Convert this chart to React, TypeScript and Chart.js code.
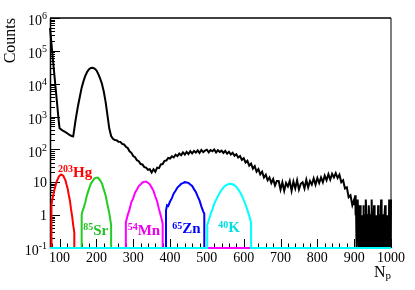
import React, { useEffect, useRef } from 'react';
import { Chart, registerables } from 'chart.js';

Chart.register(...registerables);

// ---------------- data ----------------
const FLOOR = 0.1; // empty bins rest on the axis floor
const X_MIN = 74;
const X_MAX = 1000;
const Y_MIN = 0.1;
const Y_MAX = 1e6;

const X_TICKS = [100, 200, 300, 400, 500, 600, 700, 800, 900, 1000];
const X_TICK_LABELS = ['100', '200', '300', '400', '500', '600', '700', '800', '900', '1000'];
const X_MINOR_STEP = 20;
const Y_TICKS = [1e6, 1e5, 1e4, 1e3, 1e2, 10, 1, 0.1];
const Y_TICK_BASE = ['10', '10', '10', '10', '10', '10', '1', '10'];
const Y_TICK_EXP = ['6', '5', '4', '3', '2', '', '', '-1'];
const Y_MINOR_MULT = [2, 3, 4, 5, 6, 7, 8, 9];

// full spectrum (black)
const BLACK_HEAD_X = [74, 77, 80, 83, 86, 89, 92, 95, 98, 100,
  105, 110, 115, 120, 125, 130, 135, 137, 140, 143,
  145, 150, 155, 160, 165, 170, 175, 180, 185, 190,
  195, 200, 205, 210, 215, 220, 225, 230, 235, 240];
const BLACK_HEAD_Y = [490000, 215000, 94000, 41000, 18000, 7900, 3500, 1550, 680, 440,
  400, 365, 340, 315, 285, 265, 250, 248, 420, 720,
  1000, 2100, 4000, 7600, 12000, 17500, 23000, 27500, 30000, 30500,
  29000, 25500, 20000, 14500, 10000, 5800, 2800, 1100, 430, 255];
const BLACK_BODY_START = 245;
const BLACK_BODY_STEP = 5;
const BLACK_BODY_Y = [
  210, 192, 191, 172, 170, 147, 142, 121, 111, 88,
  79, 63, 58, 47, 44, 36, 35, 29, 28, 24,
  25, 20, 25, 21, 28, 27, 35, 36, 45, 46,
  55, 53, 62, 57, 69, 63, 75, 67, 81, 70,
  84, 72, 88, 76, 90, 80, 94, 78, 97, 83,
  92, 98, 82, 96, 88, 99, 81, 95, 84, 92,
  78, 90, 74, 85, 70, 79, 64, 71, 57, 63,
  48, 54, 40, 45, 32, 37, 26, 31, 21, 25,
  17.5, 21, 14, 17, 11.5, 14, 9.5, 12.5, 8, 11,
  11, 6, 10, 5.5, 9.5, 7.5, 11, 5.5, 10.5, 6.5,
  11.5, 6, 9, 10, 6.5, 12, 7, 11, 8.5, 13,
  8.5, 13.5, 9.5, 14, 10, 16, 11.5, 17.5, 12, 18,
  14, 19, 13.5, 17, 10, 11.5, 6.5, 7, 3.5, 4,
  2, 3];
const BLACK_TAIL_START = 901;
const BLACK_TAIL_Y = [
  3, 2, 4, 1, 2, 3, 0, 2, 1, 3,
  1, 0, 2, 1, 0, 1, 2, 0, 1, 1,
  0, 1, 1, 0, 2, 0, 1, 0, 1, 1,
  0, 3, 1, 0, 1, 0, 1, 1, 0, 2,
  1, 0, 1, 0, 1, 1, 0, 3, 0, 1,
  1, 0, 1, 2, 0, 1, 0, 1, 1, 0,
  1, 0, 1, 0, 2, 1, 0, 1, 0, 1,
  1, 0, 3, 1, 0, 1, 0, 1, 1, 0,
  1, 0, 1, 2, 0, 1, 0, 1, 0, 1,
  1, 0, 1, 0, 3, 1, 0, 1, 0, 3];

// isotope peaks
const HG_X = [78, 80, 83, 86, 89, 92, 95, 98, 101, 104, 107, 110, 113, 116, 119, 122, 125, 128, 131, 134, 137, 140];
const HG_Y = [2.0, 2.9, 4.1, 5.9, 7.8, 10.5, 12.4, 14.9, 16.0, 17.2, 16.6, 15.8, 13.4, 11.4, 8.4, 6.4, 4.1, 2.8, 1.55, 0.95, 0.5, 0.3];
const SR_X = [160, 162, 165, 170, 175, 180, 185, 190, 195, 200, 205, 210, 215, 220, 225, 230, 235, 240];
const SR_Y = [1.0, 1.3, 1.6, 2.5, 4.3, 6.3, 9.1, 11.0, 13.2, 13.8, 13.7, 11.5, 9.3, 6.1, 4.0, 2.1, 1.15, 0.5];
const MN_X = [280, 282, 285, 290, 295, 300, 305, 310, 315, 320, 325, 330, 335, 340, 345, 350, 355, 360, 365, 370, 375, 380];
const MN_Y = [0.6, 0.75, 1.0, 1.5, 2.5, 3.3, 4.8, 6.0, 7.7, 8.6, 9.9, 10.3, 10.5, 9.7, 8.7, 6.9, 5.5, 3.7, 2.6, 1.5, 0.95, 0.55];
const ZN_X = [389, 392, 395, 400, 405, 410, 415, 420, 425, 430, 435, 440, 445, 450, 455, 460, 465, 470, 475, 480, 485, 490, 493];
const ZN_Y = [1.4, 2.0, 1.9, 2.6, 3.3, 4.6, 5.5, 6.9, 7.8, 8.9, 9.4, 10.1, 9.9, 9.6, 8.6, 7.7, 6.2, 5.1, 3.7, 2.8, 1.85, 1.3, 1.1];
const K_X = [501, 505, 510, 515, 520, 525, 530, 535, 540, 545, 550, 555, 560, 565, 570, 575, 580, 585, 590, 595, 600, 605, 610, 615, 620];
const K_Y = [0.5, 0.7, 1.05, 1.5, 2.2, 2.9, 3.8, 4.8, 5.9, 6.9, 7.8, 8.5, 8.9, 9.0, 8.7, 8.1, 7.2, 6.1, 5.0, 3.9, 2.9, 2.1, 1.45, 0.95, 0.6];

const ISO_MASS = ['203', '85', '54', '65', '40'];
const ISO_SYMBOL = ['Hg', 'Sr', 'Mn', 'Zn', 'K'];
const ISO_COLOR = ['#ff0000', '#22c022', '#ee00ee', '#0000ff', '#00e0e0'];
// label anchors (left edge, baseline) in data coordinates
const ISO_LABEL_X = [96, 164, 285, 406, 531];
const ISO_LABEL_Y = [14.5, 0.25, 0.25, 0.28, 0.3];

const SERIF = '"Liberation Serif", "DejaVu Serif", serif';

// ---------------- helpers ----------------
type Pt = { x: number; y: number };

function blackPoints(): Pt[] {
  const pts: Pt[] = [];
  BLACK_HEAD_X.forEach((x, i) => pts.push({ x, y: BLACK_HEAD_Y[i] }));
  BLACK_BODY_Y.forEach((y, i) => pts.push({ x: BLACK_BODY_START + i * BLACK_BODY_STEP, y: y > 0 ? y : FLOOR }));
  BLACK_TAIL_Y.forEach((y, i) => pts.push({ x: BLACK_TAIL_START + i, y: y > 0 ? y : FLOOR }));
  return pts;
}

function peakPoints(xs: number[], ys: number[], baseFrom?: number, baseTo?: number): Pt[] {
  const pts: Pt[] = [];
  if (baseFrom !== undefined) pts.push({ x: baseFrom, y: FLOOR });
  pts.push({ x: xs[0], y: FLOOR });
  xs.forEach((x, i) => pts.push({ x, y: ys[i] }));
  pts.push({ x: xs[xs.length - 1], y: FLOOR });
  if (baseTo !== undefined) pts.push({ x: baseTo, y: FLOOR });
  return pts;
}

const rootAxes = {
  id: 'rootAxes',
  beforeDatasetsDraw(chart: any) {
    const { ctx, chartArea: a, scales } = chart;
    const xs = scales.x;
    const ys = scales.y;
    ctx.save();
    ctx.strokeStyle = '#000';
    ctx.lineWidth = 1;
    ctx.beginPath();
    Y_TICKS.forEach((v) => {
      const py = Math.round(ys.getPixelForValue(v)) + 0.5;
      ctx.moveTo(a.left, py);
      ctx.lineTo(a.left + 10, py);
      Y_MINOR_MULT.forEach((k) => {
        const mv = v * k;
        if (mv > Y_MAX) return;
        const mp = Math.round(ys.getPixelForValue(mv)) + 0.5;
        ctx.moveTo(a.left, mp);
        ctx.lineTo(a.left + 5, mp);
      });
    });
    X_TICKS.forEach((v) => {
      const px = Math.round(xs.getPixelForValue(v)) + 0.5;
      ctx.moveTo(px, a.bottom);
      ctx.lineTo(px, a.bottom - 9);
    });
    for (let v = X_TICKS[0] - X_MINOR_STEP; v < X_MAX; v += X_MINOR_STEP) {
      if (v < X_MIN || X_TICKS.includes(v)) continue;
      const px = Math.round(xs.getPixelForValue(v)) + 0.5;
      ctx.moveTo(px, a.bottom);
      ctx.lineTo(px, a.bottom - 4.5);
    }
    ctx.stroke();
    ctx.lineWidth = 1.6;
    ctx.beginPath();
    ctx.moveTo(a.left, a.top);
    ctx.lineTo(a.right, a.top);
    ctx.stroke();
    ctx.lineWidth = 1.5;
    ctx.beginPath();
    ctx.moveTo(a.left + 0.5, a.top);
    ctx.lineTo(a.left + 0.5, a.bottom);
    ctx.moveTo(a.left, a.bottom);
    ctx.lineTo(a.right, a.bottom);
    ctx.stroke();
    ctx.lineWidth = 1;
    ctx.beginPath();
    ctx.moveTo(a.right, a.top);
    ctx.lineTo(a.right, a.bottom);
    ctx.stroke();
    ctx.restore();
  },
  afterDatasetsDraw(chart: any) {
    const { ctx, chartArea: a, scales } = chart;
    const xs = scales.x;
    const ys = scales.y;
    ctx.save();
    ctx.fillStyle = '#000';
    const right = a.left - 3;
    Y_TICKS.forEach((v, i) => {
      const py = ys.getPixelForValue(v);
      const exp = Y_TICK_EXP[i];
      ctx.textBaseline = 'middle';
      ctx.textAlign = 'right';
      if (exp) {
        ctx.font = `10px ${SERIF}`;
        const ew = ctx.measureText(exp).width;
        ctx.fillText(exp, right, py - 1.5);
        ctx.font = `14px ${SERIF}`;
        ctx.fillText(Y_TICK_BASE[i], right - ew, py + 3.5);
      } else {
        ctx.font = `14px ${SERIF}`;
        ctx.fillText(Y_TICK_BASE[i], right, py + 1);
      }
    });
    ctx.font = `14px ${SERIF}`;
    ctx.textAlign = 'center';
    ctx.textBaseline = 'middle';
    X_TICKS.forEach((v, i) => {
      ctx.fillText(X_TICK_LABELS[i], xs.getPixelForValue(v), a.bottom + 10.5);
    });
    ctx.save();
    ctx.font = `16px ${SERIF}`;
    ctx.translate(15, a.top);
    ctx.rotate(-Math.PI / 2);
    ctx.textAlign = 'right';
    ctx.textBaseline = 'alphabetic';
    ctx.fillText('Counts', 0, 0);
    ctx.restore();
    ctx.textAlign = 'left';
    ctx.textBaseline = 'alphabetic';
    ctx.font = `11px ${SERIF}`;
    const pw = ctx.measureText('p').width;
    ctx.font = `16px ${SERIF}`;
    const nw = ctx.measureText('N').width;
    const nx = a.right - pw - nw;
    ctx.fillText('N', nx, 277);
    ctx.font = `11px ${SERIF}`;
    ctx.fillText('p', nx + nw, 279);
    ISO_MASS.forEach((m, i) => {
      const px = xs.getPixelForValue(ISO_LABEL_X[i]);
      const py = ys.getPixelForValue(ISO_LABEL_Y[i]);
      ctx.fillStyle = ISO_COLOR[i];
      ctx.font = `bold 10px ${SERIF}`;
      const mw = ctx.measureText(m).width;
      ctx.fillText(m, px, py - 4.5);
      ctx.font = `bold 15px ${SERIF}`;
      ctx.fillText(ISO_SYMBOL[i], px + mw, py);
    });
    ctx.restore();
  },
};

export default function App() {
  const ref = useRef<HTMLCanvasElement | null>(null);
  useEffect(() => {
    if (!ref.current) return;
    const line = (color: string, width: number, data: Pt[]) => ({
      data,
      borderColor: color,
      borderWidth: width,
      pointRadius: 0,
      tension: 0,
      fill: false,
      clip: 2,
    });
    const chart = new Chart(ref.current, {
      type: 'line',
      data: {
        datasets: [
          line('#00ffff', 2, peakPoints(K_X, K_Y, X_MIN, X_MAX)),
          line('#ff00ff', 2, peakPoints(MN_X, MN_Y, undefined, X_MAX)),
          line('#0000ff', 2, peakPoints(ZN_X, ZN_Y)),
          line('#22cc22', 2, peakPoints(SR_X, SR_Y)),
          line('#ff0000', 2, peakPoints(HG_X, HG_Y)),
          line('#000000', 2, blackPoints()),
        ] as any,
      },
      options: {
        responsive: false,
        animation: false,
        layout: { padding: { left: 50, right: 24, top: 18, bottom: 42 } },
        scales: {
          x: { type: 'linear', min: X_MIN, max: X_MAX, display: false },
          y: { type: 'logarithmic', min: Y_MIN, max: Y_MAX, display: false },
        },
        plugins: { legend: { display: false }, tooltip: { enabled: false } },
        events: [],
      },
      plugins: [rootAxes as any],
    });
    return () => chart.destroy();
  }, []);
  return (
    <div style={{ position: 'absolute', left: 0, top: 0, width: 415, height: 290, background: '#fff' }}>
      <canvas ref={ref} width={415} height={290} style={{ display: 'block' }} />
    </div>
  );
}
